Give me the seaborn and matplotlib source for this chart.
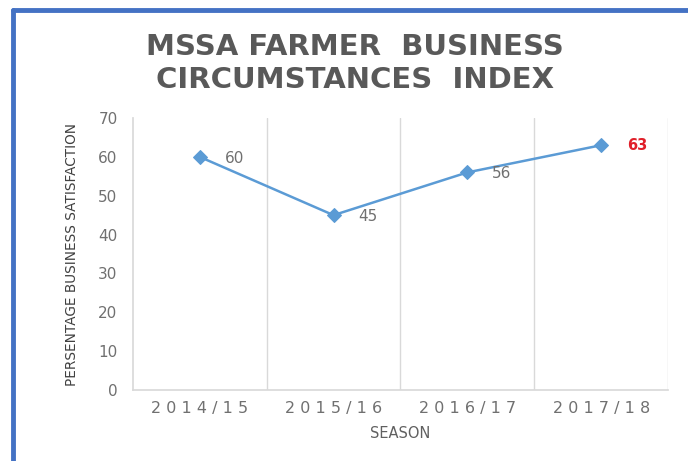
import matplotlib
matplotlib.use("Agg")
import matplotlib.pyplot as plt
import matplotlib.lines as mlines
import seaborn as sns
import pandas as pd

seasons = ["2014/15", "2015/16", "2016/17", "2017/18"]
values = [60, 45, 56, 63]
yticks = [0, 10, 20, 30, 40, 50, 60, 70]
title = "MSSA FARMER  BUSINESS\nCIRCUMSTANCES  INDEX"

sns.set_theme(style="white")
plt.rcParams['font.family'] = ['DejaVu Sans']

df = pd.DataFrame({"season": seasons, "value": values})

fig = plt.figure(figsize=(6.88, 4.61), dpi=100)
ax = fig.add_axes([0.193, 0.154, 0.778, 0.590])

sns.lineplot(data=df, x="season", y="value", ax=ax, color="#5B9BD5",
             marker="D", markersize=7.5, markeredgecolor="#5B9BD5",
             linewidth=1.8, sort=False)

ax.set_xlim(-0.5, 3.5)
ax.set_ylim(0, 70)
ax.set_yticks(yticks)
ax.set_yticklabels([str(t) for t in yticks], color="#707070", fontsize=11)
ax.set_xticks(range(len(seasons)))
ax.set_xticklabels([" ".join(list(s)) for s in seasons],
                   color="#707070", fontsize=11.5)
ax.tick_params(axis="y", length=0, pad=11)
ax.tick_params(axis="x", length=0, pad=8)

for xg in [0.5, 1.5, 2.5, 3.5]:
    ax.axvline(xg, color="#D9D9D9", linewidth=1, zorder=0)
for side in ["top", "right"]:
    ax.spines[side].set_visible(False)
ax.spines["left"].set_color("#D9D9D9")
ax.spines["bottom"].set_color("#D9D9D9")

for i, v in enumerate(values):
    if i == len(values) - 1:
        ax.annotate(str(v), (i, v), xytext=(19, 0), textcoords="offset points",
                    color="#E0202A", fontsize=10.5, fontweight="bold", va="center")
    else:
        ax.annotate(str(v), (i, v), xytext=(18, -1), textcoords="offset points",
                    color="#707070", fontsize=11, va="center")

ax.set_xlabel("SEASON", color="#606060", fontsize=10.5, labelpad=7)
ax.set_ylabel("PERSENTAGE BUSINESS SATISFACTION", color="#404040",
              fontsize=9.8, labelpad=14,
              family=["Liberation Sans Narrow", "DejaVu Sans"])

fig.text(0.516, 0.862, title, ha="center", va="center", fontsize=21,
         fontweight="bold", color="#595959", linespacing=1.2)

# blue frame on the left and top
fig.add_artist(mlines.Line2D([0.0182, 0.0182], [0.0, 0.978], color="#4472C4",
                             linewidth=3.5, transform=fig.transFigure))
fig.add_artist(mlines.Line2D([0.0182, 1.0], [0.978, 0.978], color="#4472C4",
                             linewidth=3.5, transform=fig.transFigure))

fig.savefig("out.png", dpi=100)
